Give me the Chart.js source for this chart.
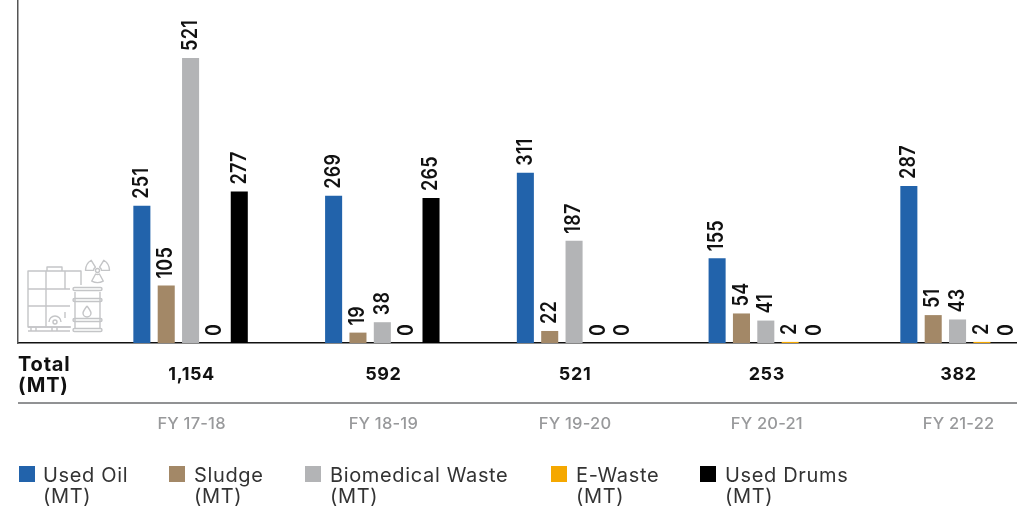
<!DOCTYPE html>
<html>
<head>
<meta charset="utf-8">
<title>Hazardous waste generated</title>
<style>
  html, body { margin: 0; padding: 0; background: #fff; overflow: hidden; }
  canvas { display: block; }
</style>
<script src="https://cdn.jsdelivr.net/npm/chart.js@4"></script>
</head>
<body>
<canvas id="wasteChart" width="1017" height="509"></canvas>
<script>
const years = ["FY 17-18", "FY 18-19", "FY 19-20", "FY 20-21", "FY 21-22"];
const totals = ["1,154", "592", "521", "253", "382"];

const usedOil = [251, 269, 311, 155, 287];
const sludge = [105, 19, 22, 54, 51];
const biomedical = [521, 38, 187, 41, 43];
const eWaste = [0, 0, 0, 2, 2];
const usedDrums = [277, 265, 0, 0, 0];

const FONT = "Inter, 'Open Sans', sans-serif";

// legend column positions: swatch x, label x
const legendCols = [[19, 43], [169, 194], [305, 330], [551, 576], [700, 725]];

function toPoints(values) {
  return values.map((v, i) => ({ x: i, y: v }));
}

function series(label, values, color) {
  return {
    label: label,
    data: toPoints(values),
    backgroundColor: color,
    categoryPercentage: 0.635,
    barPercentage: 0.7
  };
}

// rotated value above every bar, zero bars included
const valueLabels = {
  id: "valueLabels",
  afterDatasetsDraw(chart) {
    const ctx = chart.ctx;
    ctx.save();
    ctx.fillStyle = "#111";
    ctx.font = "600 18px " + FONT;
    ctx.letterSpacing = "0.3px";
    ctx.textAlign = "left";
    ctx.textBaseline = "middle";
    chart.data.datasets.forEach((ds, d) => {
      chart.getDatasetMeta(d).data.forEach((bar, i) => {
        ctx.save();
        ctx.translate(bar.x, bar.y - 7);
        ctx.rotate(-Math.PI / 2);
        ctx.scale(1, 1.16); // digits run a little taller across the bar
        ctx.fillText(String(ds.data[i].y), 0, 0);
        ctx.restore();
      });
    });
    ctx.restore();
  }
};

// rows under the axis: totals, rule, year names, then the legend
const bottomRows = {
  id: "bottomRows",
  afterDraw(chart) {
    const ctx = chart.ctx;
    const xs = chart.scales.x;
    ctx.save();

    ctx.fillStyle = "#111";
    ctx.textBaseline = "alphabetic";
    ctx.textAlign = "left";
    ctx.font = "700 20px " + FONT;
    ctx.letterSpacing = "0.8px";
    ctx.fillText("Total", 18, 371);
    ctx.fillText("(MT)", 18, 392);

    ctx.textAlign = "center";
    ctx.font = "700 18px " + FONT;
    ctx.letterSpacing = "0.6px";
    totals.forEach((t, i) => ctx.fillText(t, xs.getPixelForValue(i) + 1, 380));

    ctx.strokeStyle = "#6d6e70";
    ctx.lineWidth = 1.5;
    ctx.beginPath();
    ctx.moveTo(18, 403);
    ctx.lineTo(1017, 403);
    ctx.stroke();

    ctx.fillStyle = "#98999b";
    ctx.font = "500 16.5px " + FONT;
    ctx.letterSpacing = "0.2px";
    years.forEach((y, i) => ctx.fillText(y, xs.getPixelForValue(i) + 1, 429));

    ctx.textAlign = "left";
    ctx.font = "400 20px " + FONT;
    ctx.letterSpacing = "0.65px";
    chart.data.datasets.forEach((ds, d) => {
      const [sx, tx] = legendCols[d];
      ctx.fillStyle = ds.backgroundColor;
      ctx.fillRect(sx, 466, 16, 16);
      ctx.fillStyle = "#333";
      ctx.fillText(ds.label, tx, 482);
      ctx.fillText("(MT)", tx, 503);
    });

    ctx.restore();
  }
};

// small outline pictogram in the lower left: tote tank, drum, hazard sign
const wasteIcon = {
  id: "wasteIcon",
  afterDraw(chart) {
    const ctx = chart.ctx;
    ctx.save();
    ctx.strokeStyle = "#c4c5c7";
    ctx.lineWidth = 1.4;
    ctx.lineJoin = "round";

    const line = (pts) => {
      ctx.beginPath();
      pts.forEach((p, i) => (i ? ctx.lineTo(p[0], p[1]) : ctx.moveTo(p[0], p[1])));
      ctx.stroke();
    };

    // tank cage
    line([[71, 327], [28, 327], [28, 271], [81, 271], [81, 285]]);
    line([[46, 271], [46, 327]]);
    line([[65, 271], [65, 289]]);
    line([[65, 312], [65, 318]]);
    line([[28, 289], [70, 289]]);
    line([[28, 306], [70, 306]]);
    line([[47, 271], [47, 267], [62, 267], [62, 271]]);
    ctx.beginPath();
    ctx.arc(55, 322, 6, Math.PI, 0);
    ctx.stroke();
    ctx.beginPath();
    ctx.arc(55, 322, 2, 0, Math.PI * 2);
    ctx.stroke();

    // pallet
    line([[28, 327], [70, 327]]);
    line([[28, 331], [70, 331]]);
    line([[31, 327], [31, 331]]);
    line([[36, 327], [36, 331]]);
    line([[52, 327], [52, 331]]);
    line([[57, 327], [57, 331]]);

    // drum
    line([[75, 292], [75, 329]]);
    line([[100, 292], [100, 329]]);
    [289, 300, 320, 330].forEach((y) => {
      ctx.beginPath();
      ctx.roundRect(73, y - 1.5, 29, 3, 1.5);
      ctx.stroke();
    });
    ctx.beginPath();
    ctx.moveTo(87, 306);
    ctx.bezierCurveTo(84, 310, 83, 312, 83, 313);
    ctx.arc(87, 313, 4, Math.PI, 0, true);
    ctx.bezierCurveTo(91, 312, 90, 310, 87, 306);
    ctx.stroke();

    // hazard sign
    ctx.beginPath();
    ctx.arc(97.5, 270.5, 2, 0, Math.PI * 2);
    ctx.stroke();
    [-Math.PI / 2 - 1.05, -Math.PI / 2 + 1.05, Math.PI / 2].forEach((a) => {
      const a0 = a - 0.5, a1 = a + 0.5;
      ctx.beginPath();
      ctx.arc(97.5, 270.5, 12, a0, a1);
      ctx.arc(97.5, 270.5, 4, a1, a0, true);
      ctx.closePath();
      ctx.stroke();
    });

    ctx.restore();
  }
};

new Chart(document.getElementById("wasteChart"), {
  type: "bar",
  data: {
    datasets: [
      series("Used Oil", usedOil, "#2263ab"),
      series("Sludge", sludge, "#a38867"),
      series("Biomedical Waste", biomedical, "#b3b4b6"),
      series("E-Waste", eWaste, "#f5a800"),
      series("Used Drums", usedDrums, "#000000")
    ]
  },
  options: {
    responsive: false,
    animation: false,
    layout: { padding: { left: 18, right: 0, top: 0, bottom: 166 } },
    plugins: { legend: { display: false }, tooltip: { enabled: false } },
    scales: {
      x: {
        type: "linear",
        offset: false,
        min: -0.9,
        max: 4.31,
        // one tick per year, so bar widths follow the year spacing
        afterBuildTicks(scale) {
          scale.ticks = years.map((y, i) => ({ value: i }));
        },
        grid: { display: false, drawTicks: false },
        border: { color: "#111", width: 1.5 },
        ticks: { display: false }
      },
      y: {
        min: 0,
        max: 627,
        grid: { display: false, drawTicks: false },
        border: { color: "#555", width: 1.5 },
        ticks: { display: false }
      }
    }
  },
  plugins: [wasteIcon, valueLabels, bottomRows]
});
</script>
</body>
</html>
